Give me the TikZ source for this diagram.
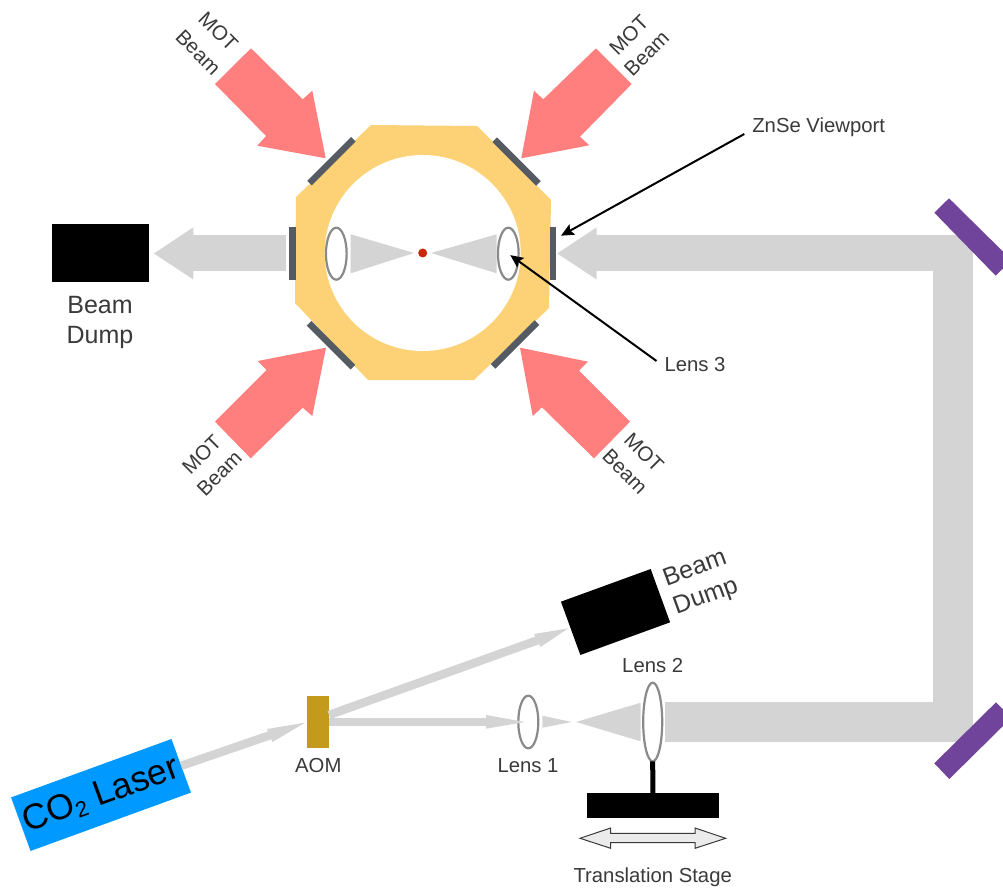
\documentclass[tikz,border=0pt]{standalone}
\usepackage{fontspec}
\setmainfont{Liberation Sans}
\usetikzlibrary{shapes.geometric,arrows.meta}
\definecolor{beamgray}{HTML}{D4D4D4}
\definecolor{motred}{HTML}{FE7F7D}
\definecolor{chamber}{HTML}{FDD277}
\definecolor{portgray}{HTML}{545B63}
\definecolor{lensgray}{HTML}{8A8A8A}
\definecolor{mirrorpurple}{HTML}{70449A}
\definecolor{aomgold}{HTML}{C49A1C}
\definecolor{laserblue}{HTML}{0099FF}
\definecolor{inkgray}{HTML}{3A3A3A}
\definecolor{atomred}{HTML}{C9280C}
\newcommand{\fsz}[1]{\fontsize{#1}{#1}\selectfont}
\tikzset{
  box/.style={inner sep=0pt,outer sep=0pt,draw=none},
  viewport/.style={box,fill=portgray,minimum width=62pt,minimum height=6.5pt},
  lens/.style={ellipse,draw=lensgray,line width=2.2pt,inner sep=0pt,outer sep=0pt},
  label/.style={text=inkgray,font=\fsz{20.3},inner sep=0pt,outer sep=0pt},
  biglabel/.style={text=inkgray,font=\fsz{25},inner sep=0pt,outer sep=0pt,align=center},
  motlabel/.style={text=inkgray,font=\fsz{20.5},inner sep=0pt,outer sep=0pt},
  thinbeam/.style={draw=beamgray,line width=8.5pt},
  bigbeam/.style={draw=beamgray,line width=36pt},
  pointer/.style={draw=black,line width=2pt,-{Stealth[length=13pt,width=12pt,inset=2.5pt,line width=0pt]}},
  cone/.style={fill=beamgray},
  motbeam/.style={fill=motred},
  mirror/.style={fill=mirrorpurple},
}
\begin{document}
\begin{tikzpicture}[x=1pt,y=-1pt,line join=miter]
\useasboundingbox (0,0) rectangle (1003,890);
\fill[white] (0,0) rectangle (1003,890);

% chamber
\fill[chamber] (371,125) -- (477,126) -- (551,200) -- (549,308) -- (474,380) -- (368,380) -- (295,303) -- (296,197) -- cycle;
\fill[white] (422.7,253) circle[radius=98];

% MOT beams
\fill[motbeam] (251,48.3) -- (215,84) -- (266,136) -- (257.3,145.7) -- (325.7,158.3) -- (312.3,90.7) -- (302.7,99.3) -- cycle;
\fill[motbeam] (596,48.3) -- (631.7,84) -- (580,136.7) -- (589.3,145.3) -- (521.3,158.3) -- (534,90.7) -- (543.3,99.3) -- cycle;
\fill[motbeam] (215,421.7) -- (250.7,458.3) -- (302.7,407.7) -- (312.3,416) -- (326,347.7) -- (257.7,361) -- (266.7,370) -- cycle;
\fill[motbeam] (630,421.7) -- (594,458.3) -- (542,407.3) -- (532.7,416) -- (520,347.7) -- (588,361.7) -- (579,370.7) -- cycle;

% viewports
\node[viewport,minimum width=6.5pt,minimum height=53pt] (vpL) at (292.5,253.5) {};
\node[viewport,minimum width=6.5pt,minimum height=53pt] (vpR) at (552.8,253.5) {};
\node[viewport,rotate=45] (vpUL) at (331.4,161.2) {};
\node[viewport,rotate=-45] (vpUR) at (516.5,161.6) {};
\node[viewport,rotate=-45] (vpLL) at (331,345.3) {};
\node[viewport,rotate=45] (vpLR) at (515,344.5) {};

% inner focus
\fill[cone] (350.7,234.3) -- (350.7,273.3) -- (414,253) -- cycle;
\fill[cone] (496.7,234.3) -- (496.7,273.3) -- (431,253) -- cycle;
\node[lens,minimum width=20.7pt,minimum height=52pt] (lensA) at (336.3,253.7) {};
\node[lens,minimum width=20.7pt,minimum height=52pt] (lensB) at (508.3,253.7) {};
\node[circle,fill=atomred,inner sep=0pt,minimum size=9pt] (atoms) at (422.7,253) {};

% beam dumps and lower components
\node[box,fill=black,minimum width=96.7pt,minimum height=58.6pt] (dumpL) at (100.6,253) {};
\node[box,fill=black,minimum width=95.5pt,minimum height=56.7pt,rotate=20] (dumpU) at (615.5,612) {};
\node[box,fill=laserblue,minimum width=170.7pt,minimum height=57pt,rotate=20,text=black,font=\fsz{35.5}] (laser) at (101,795) {CO\raisebox{-0.12em}{\fsz{22}2} Laser};
\node[box,fill=aomgold,minimum width=21.7pt,minimum height=52.3pt] (aom) at (317.85,722) {};
\node[lens,minimum width=20pt,minimum height=52.7pt] (lensOne) at (528.3,722) {};
\node[lens,minimum width=19pt,minimum height=78.7pt] (lensTwo) at (652.7,722) {};
\node[box,fill=black,minimum width=132.3pt,minimum height=25pt] (stage) at (652.85,805.8) {};

% beam path way-points
\coordinate (bendLow) at (953,722);
\coordinate (bendTop) at (953,235.3);
\coordinate (bendRight) at (972.7,253.5);
\coordinate (aomUp) at (329,715);
\coordinate (znseTip) at (561,235.7);
\coordinate (headLaser) at (270,735.2);
\coordinate (headUp) at (537.5,640.3);
\coordinate (headOne) at (487,722);
\coordinate (headRight) at (596,253.5);
\coordinate (headLeft) at (192,253.5);

% thin beams: shaft from node to head, then the head
\draw[thinbeam] (laser.east) -- (headLaser);
\fill[cone] (267,729) -- (272.5,742) -- (305,722.7) -- cycle;
\draw[thinbeam] (aomUp) -- (headUp);
\fill[cone] (534,634) -- (540.5,647) -- (568.3,628.3) -- cycle;
\draw[thinbeam] (aom.east) -- (headOne);
\fill[cone] (486,715) -- (486,728.7) -- (525,722) -- cycle;
\fill[cone] (542.3,715.7) -- (542.3,727.7) -- (571.7,722) -- cycle;
\fill[cone] (576,722) -- (640.7,702.7) -- (640.7,741.3) -- cycle;

% big beams
\draw[draw=beamgray,line width=39.2pt,shorten <=2.3pt] (lensTwo.east) -- (bendLow) -- (bendTop);
\draw[bigbeam] (bendRight) -- (headRight);
\fill[cone] (596.7,227.3) -- (596.7,279.5) -- (557.3,253.5) -- cycle;
\draw[bigbeam,shorten <=3.3pt] (vpL.west) -- (headLeft);
\fill[cone] (193.3,227.3) -- (193.3,279.5) -- (154,253.5) -- cycle;

% mirrors
\fill[mirror] (949,198.3) -- (934.3,212.7) -- (995.7,275.7) -- (1003,268.5) -- (1003,251.6) -- cycle;
\fill[mirror] (934.3,763.3) -- (996,702.3) -- (1003,709.5) -- (1003,726) -- (949.3,779) -- cycle;

% stage
\draw[black,line width=5pt] (lensTwo.south) -- (stage.north);
\draw[draw=inkgray,fill=black!8,line width=1pt] (580,838.3) -- (610.7,828) -- (610.7,833.3) -- (695,833.3) -- (695,828) -- (725.7,838.3) -- (695,848.3) -- (695,842.7) -- (610.7,842.7) -- (610.7,848.3) -- cycle;

% labels
\node[biglabel] (dumpLtxt) at (100,322) {Beam\\[5pt]Dump};
\node[biglabel,rotate=20] (dumpUa) at (694.3,567) {Beam};
\node[biglabel,rotate=20] (dumpUb) at (706,597) {Dump};
\node[label] (aomtxt) at (318.3,766) {AOM};
\node[label] (lensOnetxt) at (528,766) {Lens 1};
\node[label] (lensTwotxt) at (652.7,666) {Lens 2};
\node[label] (stagetxt) at (652.7,877) {Translation Stage};
\node[label] (znse) at (818.7,127.5) {ZnSe Viewport};
\node[label] (lensthree) at (695,365) {Lens 3};
\node[motlabel,rotate=-45] (motA) at (218.3,31.7) {MOT};
\node[motlabel,rotate=-45] (beamA) at (198.3,52.3) {Beam};
\node[motlabel,rotate=45] (motB) at (629,35) {MOT};
\node[motlabel,rotate=45] (beamB) at (646.7,53.3) {Beam};
\node[motlabel,rotate=45] (motC) at (201.7,454.3) {MOT};
\node[motlabel,rotate=45] (beamC) at (219.3,473.3) {Beam};
\node[motlabel,rotate=-45] (motD) at (644,452.7) {MOT};
\node[motlabel,rotate=-45] (beamD) at (625,471.7) {Beam};

% pointers
\draw[pointer] ([xshift=-8pt,yshift=-6.5pt]znse.west) -- (znseTip);
\draw[pointer,shorten >=2.5pt] ([xshift=-8pt,yshift=4pt]lensthree.west) -- (lensB.center);
\end{tikzpicture}
\end{document}
